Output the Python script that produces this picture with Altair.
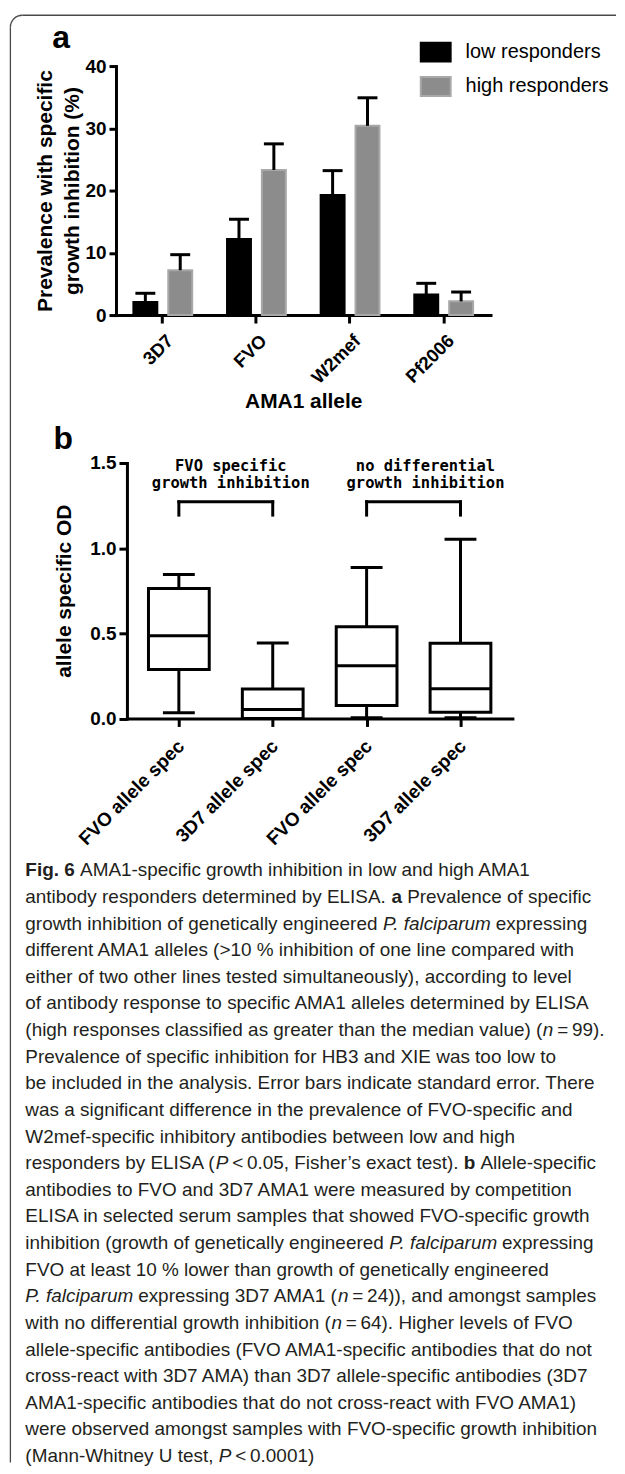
import altair as alt
import pandas as pd

# ---------------- panel a data ----------------
alleles = ["3D7", "FVO", "W2mef", "Pf2006"]
groups = ["low responders", "high responders"]
low_prev = [2.1, 12.2, 19.3, 3.3]
low_se = [1.4, 3.2, 3.9, 1.8]
high_prev = [7.2, 23.3, 30.4, 2.2]
high_se = [2.5, 4.2, 4.5, 1.5]
bar_fill = ["#000000", "#8c8c8c"]
bar_edge = ["#000000", "#a8a8a8"]
ya_ticks = [0, 10, 20, 30, 40]

# ---------------- panel b data ----------------
box_labels = ["FVO allele spec", "3D7 allele spec", "FVO allele spec", "3D7 allele spec"]
box_min = [0.033, 0.0, 0.004, 0.004]
box_q1 = [0.287, 0.0, 0.076, 0.037]
box_median = [0.485, 0.052, 0.309, 0.175]
box_q3 = [0.763, 0.173, 0.538, 0.441]
box_max = [0.845, 0.443, 0.887, 1.052]
yb_ticks = [0.0, 0.5, 1.0, 1.5]
pair_left = [1, 3]
pair_right = [2, 4]
pair_titles = ["FVO specific\ngrowth inhibition", "no differential\ngrowth inhibition"]
bracket_top = 1.272
bracket_leg = 1.194
pair_title_y = 1.485

# ---------------- caption ----------------
caption_lines = [
    "**Fig. 6** AMA1-specific growth inhibition in low and high AMA1",
    "antibody responders determined by ELISA. **a** Prevalence of specific",
    "growth inhibition of genetically engineered _P. falciparum_ expressing",
    "different AMA1 alleles (>10 % inhibition of one line compared with",
    "either of two other lines tested simultaneously), according to level",
    "of antibody response to specific AMA1 alleles determined by ELISA",
    "(high responses classified as greater than the median value) (_n_\u2009=\u200999).",
    "Prevalence of specific inhibition for HB3 and XIE was too low to",
    "be included in the analysis. Error bars indicate standard error. There",
    "was a significant difference in the prevalence of FVO-specific and",
    "W2mef-specific inhibitory antibodies between low and high",
    "responders by ELISA (_P_\u2009<\u20090.05, Fisher\u2019s exact test). **b** Allele-specific",
    "antibodies to FVO and 3D7 AMA1 were measured by competition",
    "ELISA in selected serum samples that showed FVO-specific growth",
    "inhibition (growth of genetically engineered _P. falciparum_ expressing",
    "FVO at least 10 % lower than growth of genetically engineered",
    "_P. falciparum_ expressing 3D7 AMA1 (_n_\u2009=\u200924)), and amongst samples",
    "with no differential growth inhibition (_n_\u2009=\u200964). Higher levels of FVO",
    "allele-specific antibodies (FVO AMA1-specific antibodies that do not",
    "cross-react with 3D7 AMA) than 3D7 allele-specific antibodies (3D7",
    "AMA1-specific antibodies that do not cross-react with FVO AMA1)",
    "were observed amongst samples with FVO-specific growth inhibition",
    "(Mann-Whitney U test, _P_\u2009<\u20090.0001)",
]

SANS = "Liberation Sans, Arial, sans-serif"
MONO = "DejaVu Sans Mono, monospace"
BORDER = "#4a4a4a"

# ---------- Arial-compatible advance widths (1/1000 em) for caption layout ----------
REG = {' ': 278, '!': 278, '"': 355, '%': 889, '&': 667, "'": 191, '(': 333, ')': 333,
       ',': 278, '-': 333, '.': 278, '/': 278, ':': 278, ';': 278, '<': 584, '=': 584,
       '>': 584, '?': 556, '\u2019': 222, '\u2009': 200}
for d in "0123456789":
    REG[d] = 556
REG.update(dict(zip("ABCDEFGHIJKLMNOPQRSTUVWXYZ",
                    [667, 667, 722, 722, 667, 611, 778, 722, 278, 500, 667, 556, 833, 722, 778,
                     667, 778, 722, 667, 611, 722, 667, 944, 667, 667, 611])))
REG.update(dict(zip("abcdefghijklmnopqrstuvwxyz",
                    [556, 556, 500, 556, 556, 278, 556, 556, 222, 222, 500, 222, 833, 556, 556,
                     556, 556, 333, 500, 278, 556, 500, 722, 500, 500, 500])))
BOLD = dict(REG)
BOLD.update({'F': 611, 'i': 278, 'g': 611, 'b': 611, 'a': 556, '6': 556, '.': 278, ' ': 278})
KERN = {("P", "."): -152, ("P", ","): -152, ("y", "."): -111, ("y", ","): -111,
        ("r", "."): -111, ("r", ","): -111, ("v", "."): -74, ("w", "."): -55,
        ("F", "."): -111, ("F", ","): -111, ("A", "V"): -74, ("1", "1"): -74}
SPACES = " \u2009"


def em_width(text, style):
    table = BOLD if style == "bold" else REG
    w = sum(table.get(ch, 556) for ch in text)
    w += sum(KERN.get((a, b), 0) for a, b in zip(text, text[1:]))
    return w / 1000.0


def parse(line):
    segs, cur, style, i = [], "", "normal", 0
    while i < len(line):
        if line.startswith("**", i):
            if cur:
                segs.append((cur, style))
            cur = ""
            style = "normal" if style == "bold" else "bold"
            i += 2
        elif line[i] == "_":
            if cur:
                segs.append((cur, style))
            cur = ""
            style = "normal" if style == "italic" else "italic"
            i += 1
        else:
            cur += line[i]
            i += 1
    if cur:
        segs.append((cur, style))
    return segs


parsed = [parse(l) for l in caption_lines]
max_em = max(sum(em_width(t, s) for t, s in segs) for segs in parsed)
CAP_FS = min(19.0, 592.0 / max_em)
CAP_LEFT = -91.0  # caption left edge relative to the common plot origin
rows = []
for li, segs in enumerate(parsed):
    cursor = 0.0
    for t, s in segs:
        lead = len(t) - len(t.lstrip(SPACES))
        xs = cursor + em_width(t[:lead], s) * CAP_FS
        if t.strip(SPACES):
            rows.append({"line": li, "x": CAP_LEFT + xs, "text": t.strip(SPACES), "style": s})
        cursor += em_width(t, s) * CAP_FS
dfc = pd.DataFrame(rows)

# ---------------- panel a ----------------
recs = []
for i, a in enumerate(alleles):
    recs.append({"allele": a, "group": groups[0], "value": low_prev[i], "se": low_se[i]})
    recs.append({"allele": a, "group": groups[1], "value": high_prev[i], "se": high_se[i]})
dfa = pd.DataFrame(recs)

WA, HA = 376, 250
leg = alt.Legend(title=None, orient="none", legendX=305, legendY=-30, direction="vertical",
                 symbolType="M-1,-0.633H1V0.633H-1Z", symbolSize=900, symbolStrokeWidth=2,
                 labelFont=SANS, labelFontSize=20, labelColor="black", labelOffset=14,
                 rowPadding=4.5, padding=0)
xa = alt.X("allele:N", sort=alleles, title="AMA1 allele",
           scale=alt.Scale(paddingInner=0.372, paddingOuter=0.186),
           axis=alt.Axis(labelAngle=-45, labelAlign="right", labelBaseline="top",
                         labelFont=SANS, labelFontWeight="bold", labelFontSize=18.5,
                         labelPadding=8, labelOffset=1, tickSize=8, tickWidth=3, domainWidth=3,
                         domainCap="square", titleFont=SANS, titleFontWeight="bold", titleFontSize=21,
                         titleY=87, titleBaseline="middle"))
xo = alt.XOffset("group:N", sort=groups, scale=alt.Scale(paddingInner=0.314, paddingOuter=0))
ya = alt.Y("value:Q", scale=alt.Scale(domain=[0, 40], nice=False),
           title=["Prevalence with specific", "growth inhibition (%)"],
           axis=alt.Axis(values=ya_ticks, labelFont=SANS, labelFontWeight="bold", labelFontSize=19,
                         labelPadding=3, tickSize=7, tickWidth=3, domainWidth=3, domainCap="square",
                         titleFont=SANS, titleFontWeight="bold", titleFontSize=21,
                         titleX=-71, titleBaseline="middle", titleLineHeight=27))

bars = alt.Chart(dfa).mark_bar(strokeWidth=2).encode(
    x=xa, xOffset=xo, y=ya,
    fill=alt.Fill("group:N", sort=groups, scale=alt.Scale(domain=groups, range=bar_fill), legend=leg),
    stroke=alt.Stroke("group:N", sort=groups, scale=alt.Scale(domain=groups, range=bar_edge), legend=leg),
)
err = alt.Chart(dfa).transform_calculate(top="datum.value + datum.se").mark_rule(
    strokeWidth=3, color="black").encode(
    x=alt.X("allele:N", sort=alleles), xOffset=alt.XOffset("group:N", sort=groups),
    y=alt.Y("value:Q"), y2="top:Q")
caps = alt.Chart(dfa).transform_calculate(top="datum.value + datum.se").mark_tick(
    size=20, thickness=3, color="black", orient="horizontal", opacity=1).encode(
    x=alt.X("allele:N", sort=alleles), xOffset=alt.XOffset("group:N", sort=groups),
    y=alt.Y("top:Q"))

one = pd.DataFrame({"k": [0]})
b_top = alt.Chart(one).mark_rule(color=BORDER, strokeWidth=1.3).encode(
    x=alt.value(-94), x2=alt.value(502), y=alt.value(-51))
b_left = alt.Chart(one).mark_rule(color=BORDER, strokeWidth=1.3).encode(
    x=alt.value(-106), y=alt.value(-39), y2=alt.value(1402))
b_arc = alt.Chart(one).mark_arc(radius=12.65, radius2=11.35, theta=4.712389, theta2=6.283185,
                                color=BORDER).encode(x=alt.value(-94), y=alt.value(-39))
lab_a = alt.Chart(one).mark_text(text="a", font=SANS, fontSize=32, fontWeight="bold",
                                 align="center", baseline="alphabetic", color="black").encode(
    x=alt.value(-55), y=alt.value(-18))

panel_a = alt.layer(bars, err, caps, b_top, b_left, b_arc, lab_a).properties(width=WA, height=HA)

# ---------------- panel b ----------------
dfb = pd.DataFrame({"pos": list(range(1, len(box_labels) + 1)), "label": box_labels,
                    "mn": box_min, "q1": box_q1, "med": box_median, "q3": box_q3, "mx": box_max})
WB, HB = 398, 256.5
label_expr = "[" + ",".join("'%s'" % l for l in box_labels) + "][datum.value - 1]"
xb = alt.X("pos:Q", title=None,
           scale=alt.Scale(domain=[0.5, len(box_labels) + 0.5], range=[11, WB], nice=False, zero=False),
           axis=alt.Axis(values=list(range(1, len(box_labels) + 1)), labelExpr=label_expr, labelAngle=-45,
                         labelAlign="right", labelBaseline="top",
                         labelFont=SANS, labelFontWeight="bold", labelFontSize=19, labelPadding=10,
                         labelOffset=-4.5, labelFlush=False, labelOverlap=False, labelBound=False,
                         tickSize=8, tickWidth=3, domainWidth=3, domainCap="square", grid=False))
yb = alt.Y("mn:Q", title="allele specific OD", scale=alt.Scale(domain=[0, 1.5], nice=False),
           axis=alt.Axis(values=yb_ticks, format=".1f", offset=-11, labelFont=SANS,
                         labelFontWeight="bold", labelFontSize=19, labelPadding=3, tickSize=8,
                         tickWidth=3, domainWidth=3, domainCap="square", titleFont=SANS,
                         titleFontWeight="bold", titleFontSize=21, titleX=-63, titleBaseline="middle",
                         grid=False))

whisk = alt.Chart(dfb).mark_rule(strokeWidth=3, color="black").encode(x=xb, y=yb, y2="mx:Q")
box = alt.Chart(dfb).mark_bar(size=61, fill="white", stroke="black", strokeWidth=3).encode(
    x="pos:Q", y="q1:Q", y2="q3:Q")
med = alt.Chart(dfb).mark_tick(size=61, thickness=3, color="black", orient="horizontal", opacity=1).encode(
    x="pos:Q", y="med:Q")
cap_lo = alt.Chart(dfb).mark_tick(size=32, thickness=3, color="black", orient="horizontal", opacity=1).encode(
    x="pos:Q", y="mn:Q")
cap_hi = alt.Chart(dfb).mark_tick(size=32, thickness=3, color="black", orient="horizontal", opacity=1).encode(
    x="pos:Q", y="mx:Q")

dfp = pd.DataFrame({"idx": [0, 1], "left": pair_left, "right": pair_right,
                    "top": [bracket_top] * 2, "leg": [bracket_leg] * 2,
                    "title": pair_titles, "ty": [pair_title_y] * 2})
br_top = alt.Chart(dfp).mark_rule(strokeWidth=3, color="black", strokeCap="square").encode(
    x="left:Q", x2="right:Q", y="top:Q")
br_l = alt.Chart(dfp).mark_rule(strokeWidth=3, color="black", strokeCap="square").encode(
    x="left:Q", y="leg:Q", y2="top:Q")
br_r = alt.Chart(dfp).mark_rule(strokeWidth=3, color="black", strokeCap="square").encode(
    x="right:Q", y="leg:Q", y2="top:Q")
title_layers = []
for i, dx in enumerate([5, 12]):
    title_layers.append(
        alt.Chart(dfp).transform_filter("datum.idx == %d" % i)
        .transform_calculate(mid="(datum.left + datum.right) / 2")
        .mark_text(font=MONO, fontWeight="bold", fontSize=15.5, lineBreak="\n", lineHeight=18,
                   align="center", baseline="middle", dx=dx, color="black")
        .encode(x="mid:Q", y="ty:Q", text="title:N"))
lab_b = alt.Chart(one).mark_text(text="b", font=SANS, fontSize=32, fontWeight="bold",
                                 align="center", baseline="alphabetic", color="black").encode(
    x=alt.value(-53), y=alt.value(-14.5))

panel_b = alt.layer(whisk, box, med, cap_lo, cap_hi, br_top, br_l, br_r, *title_layers, lab_b).properties(
    width=WB, height=HB)

# ---------------- caption ----------------
n_lines = len(caption_lines)
LINE_H = 26.73
cx = alt.X("x:Q", scale=alt.Scale(domain=[-300, 700], range=[-300, 700], nice=False, zero=False), axis=None)
cy = alt.Y("line:Q", scale=alt.Scale(domain=[0, n_lines - 1], range=[3.5, 3.5 + LINE_H * (n_lines - 1)],
                                     nice=False, zero=False), axis=None)
cap_layers = []
for style, weight, fstyle in [("normal", "normal", "normal"), ("bold", "bold", "normal"),
                              ("italic", "normal", "italic")]:
    cap_layers.append(
        alt.Chart(dfc).transform_filter("datum.style == '%s'" % style)
        .mark_text(font=SANS, fontSize=CAP_FS, fontWeight=weight, fontStyle=fstyle,
                   align="left", baseline="middle", color="#231f20")
        .encode(x=cx, y=cy, text="text:N"))
caption = alt.layer(*cap_layers).properties(width=WB, height=592)

chart = alt.vconcat(panel_a, panel_b, caption, spacing=148.5, bounds="flush").properties(
    padding={"left": 1.4, "top": 3.4, "right": 0, "bottom": 0}
).configure_view(strokeWidth=0).configure_axis(
    domainColor="black", tickColor="black", labelColor="black", titleColor="black", grid=False)

chart.save("out.html", embed_options={"renderer": "svg", "actions": False})
